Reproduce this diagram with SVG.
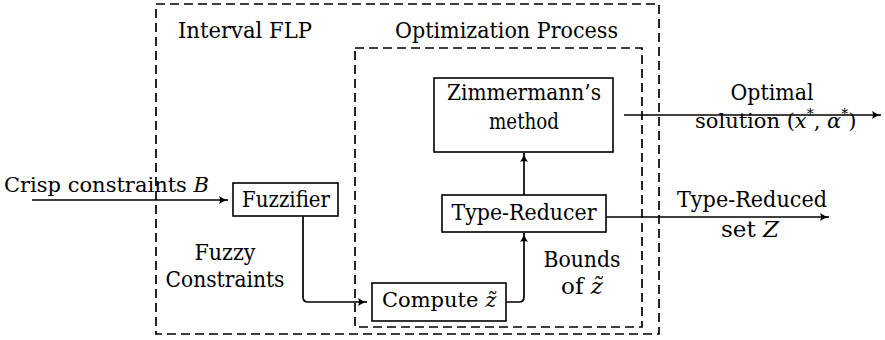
<svg xmlns="http://www.w3.org/2000/svg" width="885" height="340" viewBox="0 0 885 340">
  <style>
    text { font-family: "DejaVu Serif", serif; font-size: 23px; fill: #000; }
    .c { text-anchor: middle; }
    .i { font-style: italic; }
    .s { font-size: 21px; }
    .box { fill: #fff; stroke: #000; stroke-width: 1.6; }
    .dash { fill: none; stroke: #000; stroke-width: 1.7; stroke-dasharray: 9 5; }
    .wire { fill: none; stroke: #000; stroke-width: 1.7; marker-end: url(#tip); }
  </style>
  <defs>
    <marker id="tip" markerUnits="userSpaceOnUse" markerWidth="12" markerHeight="10" refX="9" refY="4" orient="auto">
      <path d="M0,0 Q4,3 9,4 Q4,5 0,8 Q2,4 0,0 Z" fill="#000"/>
    </marker>
  </defs>

  <rect width="885" height="340" fill="#fff"/>

  <!-- grouping frames -->
  <g id="interval-flp">
    <rect class="dash" x="156" y="4" width="503" height="330"/>
    <text x="178" y="38" textLength="134" lengthAdjust="spacingAndGlyphs">Interval FLP</text>
  </g>
  <g id="optimization-process">
    <rect class="dash" x="355" y="48" width="287" height="279"/>
    <text x="395" y="38" textLength="223" lengthAdjust="spacingAndGlyphs">Optimization Process</text>
  </g>

  <!-- connectors -->
  <g id="connectors">
    <path class="wire" d="M32,200 H228"/>
    <path class="wire" d="M303,216 V297 Q303,302 308,302 H367"/>
    <path class="wire" d="M506,302 H519 Q524,302 524,297 V233"/>
    <path class="wire" d="M524,195 V153"/>
    <path class="wire" d="M624,115 H881"/>
    <path class="wire" d="M606,217 H829"/>
  </g>

  <!-- nodes -->
  <g id="zimmermann">
    <rect class="box" x="434" y="78" width="179" height="74"/>
    <text class="c" x="524" y="100" textLength="154" lengthAdjust="spacingAndGlyphs">Zimmermann’s</text>
    <text class="c" x="524" y="129" textLength="70" lengthAdjust="spacingAndGlyphs">method</text>
  </g>
  <g id="fuzzifier">
    <rect class="box" x="233" y="183" width="105" height="33"/>
    <text class="c" x="286" y="207" textLength="88" lengthAdjust="spacingAndGlyphs">Fuzzifier</text>
  </g>
  <g id="type-reducer">
    <rect class="box" x="442" y="195" width="164" height="37"/>
    <text class="c" x="524" y="220" textLength="145" lengthAdjust="spacingAndGlyphs">Type-Reducer</text>
  </g>
  <g id="compute">
    <rect class="box" x="372" y="283" width="134" height="38"/>
    <text class="s" x="382" y="307">Compute <tspan class="i">z̃</tspan></text>
  </g>

  <!-- edge labels -->
  <g id="labels">
    <text class="s" x="4" y="192">Crisp constraints <tspan class="i">B</tspan></text>
    <text class="c" x="225" y="260" textLength="61" lengthAdjust="spacingAndGlyphs">Fuzzy</text>
    <text class="c" x="225" y="287" textLength="119" lengthAdjust="spacingAndGlyphs">Constraints</text>
    <text class="c" x="582" y="267" textLength="77" lengthAdjust="spacingAndGlyphs">Bounds</text>
    <text class="c" x="582" y="294">of <tspan class="i">z̃</tspan></text>
    <text class="c" x="772" y="100" textLength="83" lengthAdjust="spacingAndGlyphs">Optimal</text>
    <text class="s" x="695" y="128">solution (<tspan class="i">x</tspan><tspan dy="-9" font-size="14">*</tspan><tspan dy="9">, </tspan><tspan class="i">α</tspan><tspan dy="-9" font-size="14">*</tspan><tspan dy="9">)</tspan></text>
    <text class="c" x="752" y="207" textLength="150" lengthAdjust="spacingAndGlyphs">Type-Reduced</text>
    <text class="c" x="750" y="237">set <tspan class="i">Z</tspan></text>
  </g>
</svg>
